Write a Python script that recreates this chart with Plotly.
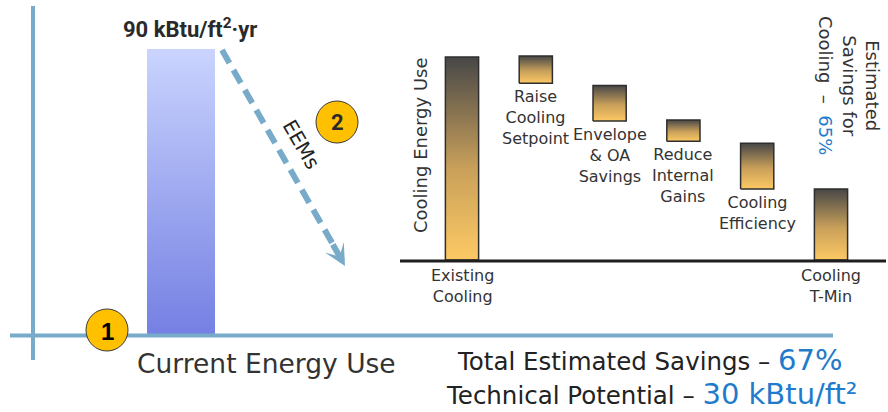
import plotly.graph_objects as go

# ---- data -------------------------------------------------------------
CURRENT_LABEL = "Current Energy Use"
CURRENT_EUI = 90  # kBtu/ft²·yr

STEPS = ["Existing<br>Cooling", "Raise<br>Cooling<br>Setpoint", "Envelope<br>& OA<br>Savings",
         "Reduce<br>Internal<br>Gains", "Cooling<br>Efficiency", "Cooling<br>T-Min"]
# floating bar extents, % of existing cooling energy
STEP_LOW = [0, 87, 68.5, 58.5, 35, 0]
STEP_HIGH = [100, 100.5, 86, 69, 57.5, 35]

COOLING_SAVINGS = "65%"
TOTAL_SAVINGS = "67%"
TECH_POTENTIAL = "30 kBtu/ft²"

# ---- styling ----------------------------------------------------------
W, H = 888, 412
AXIS_BLUE = "#78abc9"
TEXT = "#333333"
ACCENT = "#1f7bcb"
SANS = "DejaVu Sans, Verdana, sans-serif"
NARROW = "Roboto, Liberation Sans, sans-serif"


def fx(p):
    return p / W


def fy(p):
    return 1 - p / H


fig = go.Figure()

# current energy use bar (left panel)
fig.add_trace(go.Scatter(
    x=[-0.5, 0.5, 0.5, -0.5, -0.5],
    y=[0, 0, CURRENT_EUI, CURRENT_EUI, 0],
    mode="lines", fill="toself", line=dict(width=0),
    fillgradient=dict(type="vertical",
                      colorscale=[[0, "#7580e3"], [1, "#cad4fe"]]),
    xaxis="x", yaxis="y", hoverinfo="skip", showlegend=False,
))

# cooling waterfall bars (right panel)
half = 0.225
for i, (lo, hi) in enumerate(zip(STEP_LOW, STEP_HIGH)):
    fig.add_trace(go.Scatter(
        x=[i - half, i + half, i + half, i - half, i - half],
        y=[lo, lo, hi, hi, lo],
        mode="lines", fill="toself",
        line=dict(color="#2e2e2e", width=1.5),
        fillgradient=dict(type="vertical",
                          colorscale=[[0, "#fdc964"], [0.45, "#c9a05a"], [1, "#474747"]]),
        xaxis="x2", yaxis="y2", hoverinfo="skip", showlegend=False,
    ))


def note(x, y, text, size, color=TEXT, family=SANS, **kw):
    d = dict(x=fx(x), y=fy(y), xref="paper", yref="paper", text=text, showarrow=False,
             xanchor="center", yanchor="middle", align="center",
             font=dict(family=family, size=size, color=color))
    d.update(kw)
    return d


annotations = []
# step labels
for i, (name, lo) in enumerate(zip(STEPS, STEP_LOW)):
    annotations.append(dict(
        x=i, y=lo, xref="x2", yref="y2", text=name, showarrow=False,
        xanchor="center", yanchor="top", yshift=-4 if lo == 0 else -2,
        font=dict(family=SANS, size=16, color=TEXT), align="center"))

annotations += [
    dict(x=0.13, y=CURRENT_EUI, xref="x", yref="y", yshift=21,
         xanchor="center", yanchor="middle",
         text="<b>90 kBtu/ft<sup>2</sup>·yr</b>", showarrow=False,
         font=dict(family=NARROW, size=22, color="#2a2a2a")),
    note(266, 363, CURRENT_LABEL, 26.5),
    note(301, 144, "EEMs", 20, color="#222222", textangle=60),
    note(421, 145, "Cooling Energy Use", 18, textangle=-90),
    note(849, 85, "Estimated<br>Savings for<br>Cooling  –  "
                  f"<span style='color:{ACCENT}'>{COOLING_SAVINGS}</span>", 18, textangle=90),
    note(650, 360, f"Total Estimated Savings – <span style='color:{ACCENT};font-size:29px'>{TOTAL_SAVINGS}</span>",
         24.5, color="#222222"),
    note(651, 394, f"Technical Potential – <span style='color:{ACCENT};font-size:29px'>{TECH_POTENTIAL}</span>",
         24.5, color="#222222"),
    # badges
    note(107, 331, "<b>1</b>", 24, color="#000000", family="Liberation Sans, Arial, sans-serif"),
    note(337, 123, "<b>2</b>", 22, color="#2a2a2a", family=NARROW),
    # EEM arrow head
    dict(x=fx(345), y=fy(266), xref="paper", yref="paper", ax=-13, ay=-23,
         text="", showarrow=True, arrowhead=3, arrowsize=0.6, arrowwidth=6,
         arrowcolor=AXIS_BLUE, standoff=0),
]

shapes = [
    # left panel axes
    dict(type="line", xref="paper", yref="paper", x0=fx(33), x1=fx(33), y0=fy(6), y1=fy(360),
         line=dict(color=AXIS_BLUE, width=4)),
    dict(type="line", xref="paper", yref="paper", x0=fx(10), x1=fx(833), y0=fy(335.5), y1=fy(335.5),
         line=dict(color=AXIS_BLUE, width=4)),
    # EEM dashed path
    dict(type="line", xref="paper", yref="paper", x0=fx(222), y0=fy(50), x1=fx(335), y1=fy(248),
         line=dict(color=AXIS_BLUE, width=6, dash="15px,8px")),
    # waterfall baseline
    dict(type="line", xref="paper", yref="paper", x0=fx(400), x1=fx(886), y0=fy(261), y1=fy(261),
         line=dict(color="#1e1e1e", width=3)),
]
for cx, cy in [(107, 330), (337, 122)]:
    shapes.append(dict(type="circle", xref="paper", yref="paper",
                       xsizemode="pixel", ysizemode="pixel", xanchor=fx(cx), yanchor=fy(cy),
                       x0=-21, x1=21, y0=-21, y1=21,
                       fillcolor="#ffc000", line=dict(color="#3a3a3a", width=1)))

hidden = dict(visible=False, showgrid=False, zeroline=False, fixedrange=True)
fig.update_layout(
    width=W, height=H, margin=dict(l=0, r=0, t=0, b=0),
    paper_bgcolor="white", plot_bgcolor="rgba(0,0,0,0)",
    xaxis=dict(domain=[0, 0.5], range=[-2.662, 3.868], **hidden),
    yaxis=dict(domain=[fy(334), fy(17.3)], range=[0, 100], **hidden),
    xaxis2=dict(domain=[fx(425.1), fx(867.9)], range=[-0.5, 5.5], anchor="y2", **hidden),
    yaxis2=dict(domain=[fy(260), fy(36.67)], range=[0, 110], anchor="x2", **hidden),
    annotations=annotations, shapes=shapes,
)

fig.write_html("out.html")
